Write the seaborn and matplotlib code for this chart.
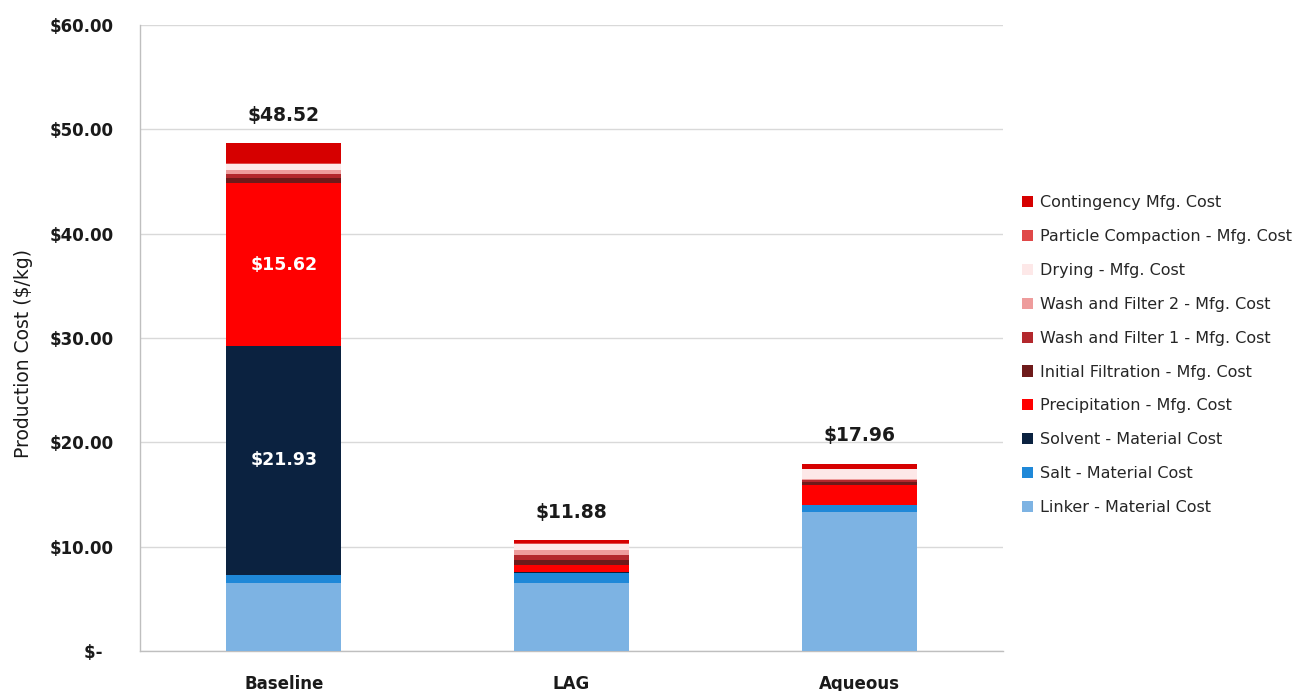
import numpy as np
import pandas as pd
import matplotlib
matplotlib.use("Agg")
import matplotlib.pyplot as plt
from matplotlib.patches import Patch
from matplotlib.ticker import FuncFormatter, FixedLocator
import seaborn as sns

# ---- data ----
categories = ["Baseline", "LAG", "Aqueous"]
components = [
    "Linker - Material Cost",
    "Salt - Material Cost",
    "Solvent - Material Cost",
    "Precipitation - Mfg. Cost",
    "Initial Filtration - Mfg. Cost",
    "Wash and Filter 1 - Mfg. Cost",
    "Wash and Filter 2 - Mfg. Cost",
    "Drying - Mfg. Cost",
    "Particle Compaction - Mfg. Cost",
    "Contingency Mfg. Cost",
]
linker = [6.52, 6.52, 13.33]
salt = [0.78, 0.93, 0.67]
solvent = [21.93, 0.15, 0.00]
precipitation = [15.62, 0.64, 1.92]
initial_filtration = [0.45, 0.50, 0.30]
wash_filter_1 = [0.45, 0.45, 0.20]
wash_filter_2 = [0.40, 0.50, 0.10]
drying = [0.55, 0.60, 0.90]
particle_compaction = [0.10, 0.05, 0.05]
contingency = [1.85, 0.30, 0.50]
total_labels = ["$48.52", "$11.88", "$17.96"]

colors = ["#7DB3E3", "#1F88D8", "#0B2240", "#FF0000", "#6E1A1A",
          "#B3282D", "#EE9C9C", "#FDE8E8", "#E04848", "#D60000"]

series = [linker, salt, solvent, precipitation, initial_filtration,
          wash_filter_1, wash_filter_2, drying, particle_compaction, contingency]

df = pd.DataFrame({name: vals for name, vals in zip(components, series)},
                  index=categories)
cum = df.cumsum(axis=1)

sns.set_theme(style="white")
plt.rcParams["font.family"] = ["DejaVu Sans"]

fig = plt.figure(figsize=(13, 6.91), dpi=100)
ax = fig.add_axes([0.1077, 0.0579, 0.6638, 0.9059])

# draw cumulative bars from top layer down
for i in range(len(components) - 1, -1, -1):
    sns.barplot(x=categories, y=cum[components[i]].values, color=colors[i],
                width=0.4, saturation=1, linewidth=0, ax=ax, zorder=3)

ax.set_xlim(-0.5, 2.5)
ax.set_ylim(0, 60)
ax.set_yticks(np.arange(0, 61, 10))
ax.yaxis.set_major_formatter(FuncFormatter(
    lambda v, p: "$-  " if v == 0 else f"${v:.2f}"))
ax.grid(axis="y", color="#D9D9D9", linewidth=1, zorder=0)
ax.set_axisbelow(True)

for s in ["top", "right"]:
    ax.spines[s].set_visible(False)
for s in ["left", "bottom"]:
    ax.spines[s].set_color("#BFBFBF")
    ax.spines[s].set_linewidth(1)

ax.tick_params(axis="y", which="major", length=5, color="#BFBFBF",
               labelsize=12, pad=14)
for lab in ax.get_yticklabels():
    lab.set_fontweight("bold")
    lab.set_color("#1a1a1a")
ax.tick_params(axis="x", which="major", length=0, labelsize=12, pad=17)
ax.xaxis.set_minor_locator(FixedLocator([-0.5, 0.5, 1.5, 2.5]))
ax.tick_params(axis="x", which="minor", length=7, color="#BFBFBF")
for lab in ax.get_xticklabels():
    lab.set_fontweight("bold")
    lab.set_color("#1a1a1a")

ax.set_ylabel("Production Cost ($/kg)", fontsize=13.5, labelpad=12,
              color="#1a1a1a", y=0.476)
ax.set_xlabel("")

# total labels
tops = cum[components[-1]].values
for xi, (top, lab) in enumerate(zip(tops, total_labels)):
    ax.annotate(lab, xy=(xi, top), xytext=(0, 20), textcoords="offset points",
                ha="center", va="center", color="#1a1a1a",
                fontsize=13.5, fontweight="bold")

# inner labels for large segments
for i, comp in enumerate(components):
    for xi in range(len(categories)):
        v = df[comp].values[xi]
        if v >= 5 and comp != "Linker - Material Cost":
            mid = cum[comp].values[xi] - v / 2
            ax.text(xi, mid, f"${v:.2f}", ha="center", va="center",
                    color="white", fontsize=12.5, fontweight="bold", zorder=5)

handles = [Patch(facecolor=c, edgecolor="none") for c in colors][::-1]
labels = components[::-1]
fig.legend(handles, labels, loc="center left", bbox_to_anchor=(0.786, 0.486),
           frameon=False, fontsize=11.5, handlelength=0.7, handleheight=0.7,
           handletextpad=0.45, labelspacing=1.18, borderpad=0, borderaxespad=0)

fig.savefig("out.png", dpi=100)
